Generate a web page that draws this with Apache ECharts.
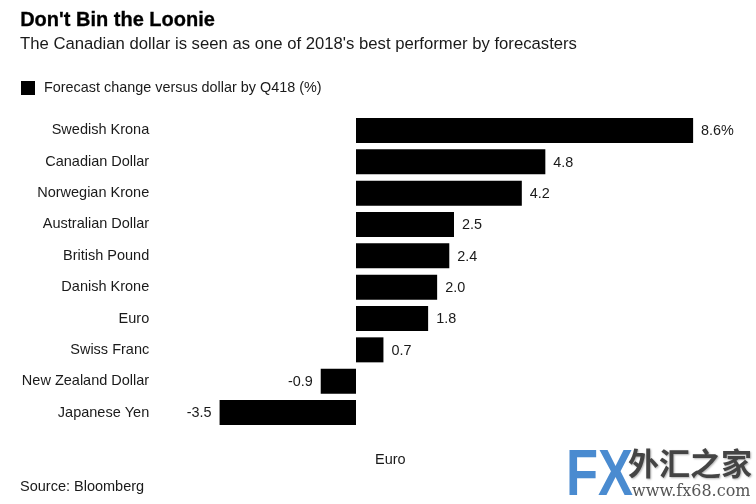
<!DOCTYPE html>
<html><head><meta charset="utf-8">
<style>html,body{margin:0;padding:0;background:#fff}#c{width:756px;height:504px}</style>
<script src="https://cdn.jsdelivr.net/npm/echarts@6/dist/echarts.min.js"></script>
</head><body><div id="c"></div>
<script>
const categories = ["Swedish Krona","Canadian Dollar","Norwegian Krone","Australian Dollar","British Pound","Danish Krone","Euro","Swiss Franc","New Zealand Dollar","Japanese Yen"];
const values = [8.6,4.83,4.23,2.5,2.38,2.07,1.84,0.7,-0.9,-3.48];
const valueLabels = ["8.6%","4.8","4.2","2.5","2.4","2.0","1.8","0.7","-0.9","-3.5"];
const seriesName = "Forecast change versus dollar by Q418 (%)";
const titleText = "Don't Bin the Loonie";
const subtitleText = "The Canadian dollar is seen as one of 2018's best performer by forecasters";
const sourceText = "Source: Bloomberg";
const strayText = "Euro";
const font = "Liberation Sans";
const chart = echarts.init(document.getElementById('c'));
chart.setOption({
  animation:false,
  backgroundColor:'#fff',
  textStyle:{fontFamily:font,color:'#1a1a1a'},
  legend:{show:true,left:16,top:76,itemWidth:14,itemHeight:14,itemGap:8,icon:'rect',
    data:[seriesName],textStyle:{fontFamily:font,fontSize:14.4,color:'#1a1a1a',padding:[2,0,0,4]}},
  grid:{left:199.2,width:509.6,top:114.8,height:313.4,containLabel:false},
  xAxis:{type:'value',min:-4,max:9,interval:1,show:false},
  yAxis:{type:'category',inverse:true,data:categories,
    axisLine:{show:false},axisTick:{show:false},splitLine:{show:false},
    axisLabel:{margin:50,fontFamily:font,fontSize:14.5,color:'#1a1a1a',verticalAlign:'middle',lineHeight:14,padding:[3,0,0,0]}},
  series:[{name:seriesName,type:'bar',data:values.map((v,i)=>({value:v,
      label:{position:v<0?'left':'right',formatter:valueLabels[i]}})),
    barWidth:25,itemStyle:{color:'#000'},
    label:{show:true,distance:8,offset:[0,1],fontFamily:font,fontSize:14.4,color:'#1a1a1a'}}],
  graphic:[
    {type:'text',left:20,top:10,style:{text:titleText,fontFamily:font,fontWeight:'bold',fontSize:20,fill:'#000',stroke:'#000',lineWidth:0.3}},
    {type:'text',left:20,top:36,style:{text:subtitleText,fontFamily:font,fontSize:16.7,fill:'#1a1a1a'}},
    {type:'text',left:375,top:452,style:{text:strayText,fontFamily:font,fontSize:14.5,fill:'#1a1a1a'}},
    {type:'text',x:20,y:479,style:{text:sourceText,fontFamily:font,fontSize:14.5,fill:'#1a1a1a'}},
    {type:'text',x:566,y:445,scaleX:0.82,style:{text:'FX',fontFamily:font,fontWeight:'bold',fontSize:64,fill:'#4a8bd0'}},
    {type:'text',left:628,top:448,style:{text:'外汇之家',fontFamily:'Noto Sans CJK SC',fontWeight:'bold',fontSize:31,fill:'#444',
      textShadowColor:'rgba(0,0,0,0.3)',textShadowBlur:2,textShadowOffsetX:1,textShadowOffsetY:1}},
    {type:'text',left:632,top:484,style:{text:'www.fx68.com',fontFamily:'DejaVu Serif',fontSize:16,fill:'#555'}}
  ]
});
</script></body></html>
